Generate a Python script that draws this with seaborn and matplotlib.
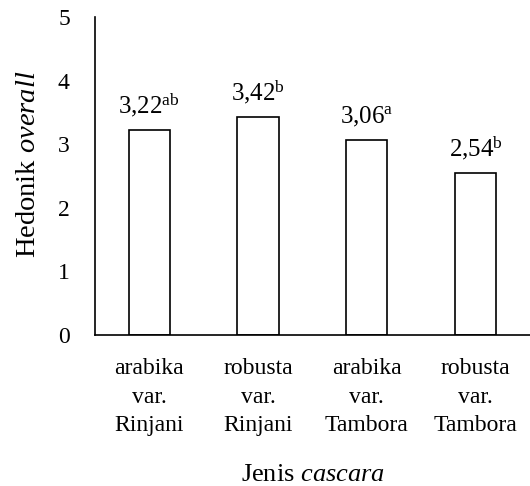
import matplotlib
matplotlib.use("Agg")
import matplotlib.pyplot as plt
import seaborn as sns
import pandas as pd

# data
jenis = ["arabika\nvar.\nRinjani", "robusta\nvar.\nRinjani",
         "arabika\nvar.\nTambora", "robusta\nvar.\nTambora"]
hedonik = [3.22, 3.42, 3.06, 2.54]
notasi = ["ab", "b", "a", "b"]

sns.set_theme(style="white")
plt.rcParams["font.family"] = ["Liberation Serif", "DejaVu Serif"]
plt.rcParams["mathtext.fontset"] = "custom"
plt.rcParams["mathtext.rm"] = "Liberation Serif"
plt.rcParams["mathtext.it"] = "Liberation Serif:italic"

df = pd.DataFrame({"jenis": jenis, "hedonik": hedonik})

fig = plt.figure(figsize=(5.3, 4.86), dpi=100)
ax = fig.add_axes([0.179, 0.311, 0.821, 0.654])

sns.barplot(data=df, x="jenis", y="hedonik", ax=ax, color="white",
            edgecolor="black", linewidth=1.2, width=0.38)

for i, (v, n) in enumerate(zip(hedonik, notasi)):
    lbl = f"{v:.2f}".replace(".", ",") + "$^{\\mathrm{" + n + "}}$"
    ax.annotate(lbl, (i, v), xytext=(0, 8), textcoords="offset points",
                ha="center", va="bottom", fontsize=18, color="black")

ax.set_ylim(0, 5)
ax.set_xlim(-0.5, 3.5)
ax.set_yticks(range(0, 6))
ax.tick_params(axis="y", length=0, pad=18, labelsize=17, colors="black")
ax.tick_params(axis="x", length=0, pad=17, labelsize=17, colors="black")
plt.setp(ax.get_xticklabels(), linespacing=1.45)
for s in ["top", "right"]:
    ax.spines[s].set_visible(False)
for s in ["left", "bottom"]:
    ax.spines[s].set_color("black")
    ax.spines[s].set_linewidth(1.2)

ax.set_xlabel("Jenis $\\mathit{cascara}$", fontsize=19, color="black", labelpad=20)
ax.set_ylabel("Hedonik $\\mathit{overall}$", fontsize=20.5, color="black")
ax.yaxis.set_label_coords(-0.123, 0.535)

fig.savefig("out.png", dpi=100)
